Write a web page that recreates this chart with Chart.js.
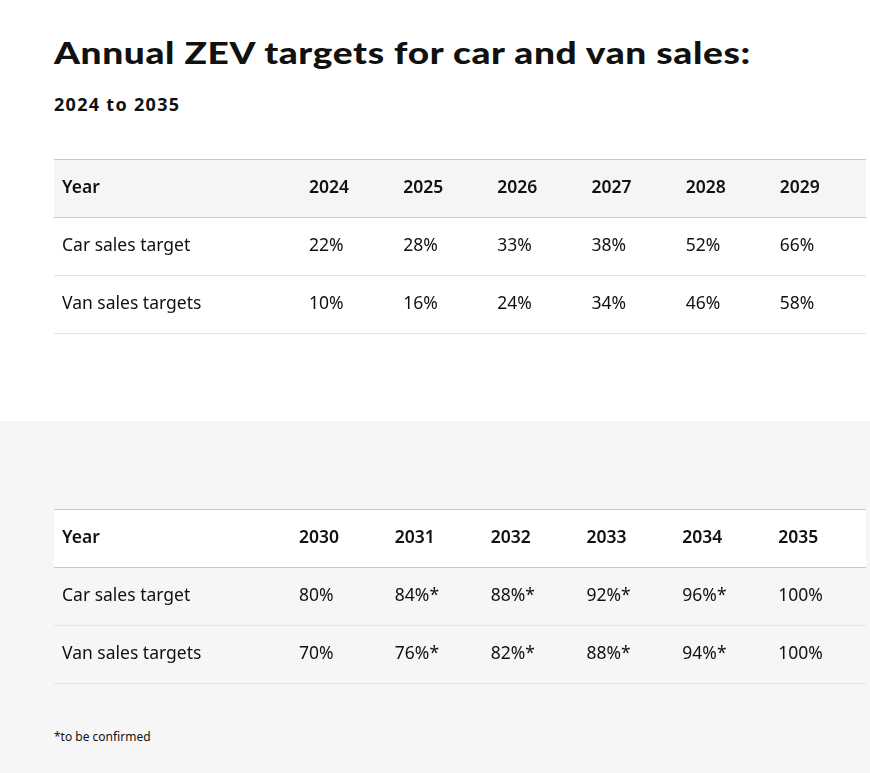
<!DOCTYPE html>
<html>
<head>
<meta charset="utf-8">
<script src="https://cdn.jsdelivr.net/npm/chart.js@4"></script>
<style>
  html, body { margin: 0; padding: 0; }
  body { width: 870px; height: 773px; position: relative; background: #fff; font-family: "Noto Sans", sans-serif; color: #111; overflow: hidden; }
  #lower { position: absolute; left: 0; top: 421px; width: 870px; height: 352px; background: #f6f6f6; }
  h1 { position: absolute; left: 54px; top: 34px; margin: 0; font-family: Lato, sans-serif; font-weight: 900; font-size: 30px; letter-spacing: 0.5px; white-space: nowrap; transform: scaleX(1.235); transform-origin: left top; }
  h2 { position: absolute; left: 54px; top: 92px; margin: 0; font-weight: 700; font-size: 18px; letter-spacing: 1.3px; }
  .tbl { position: absolute; left: 54px; }
  #t1 { top: 158px; }
  #t2 { top: 508px; }
  #note { position: absolute; left: 54px; top: 728px; font-size: 12px; }
</style>
</head>
<body>
<div id="lower"></div>
<h1>Annual ZEV targets for car and van sales:</h1>
<h2>2024 to 2035</h2>
<canvas id="t1" class="tbl" width="812" height="177"></canvas>
<canvas id="t2" class="tbl" width="812" height="177"></canvas>
<div id="note">*to be confirmed</div>
<script>
// table data
var rowNames = ['Year', 'Car sales target', 'Van sales targets'];
var years1 = ['2024', '2025', '2026', '2027', '2028', '2029'];
var car1 = ['22%', '28%', '33%', '38%', '52%', '66%'];
var van1 = ['10%', '16%', '24%', '34%', '46%', '58%'];
var years2 = ['2030', '2031', '2032', '2033', '2034', '2035'];
var car2 = ['80%', '84%*', '88%*', '92%*', '96%*', '100%'];
var van2 = ['70%', '76%*', '82%*', '88%*', '94%*', '100%'];

// draws row backgrounds, rules and cell text at scale positions
var tablePlugin = {
  id: 'tableCells',
  beforeDatasetsDraw: function(chart, args, opts) {
    var c = chart.ctx, a = chart.chartArea, ys = chart.scales.y;
    var rowH = (a.bottom - a.top) / rowNames.length;
    c.save();
    c.fillStyle = opts.headerBg;
    var hy = ys.getPixelForValue(0);
    c.fillRect(0, hy - rowH / 2, a.right, rowH);
    rowNames.forEach(function(r, i) {
      var y = ys.getPixelForValue(i);
      if (i == 0) {
        c.strokeStyle = '#c9c9c9';
        c.beginPath(); c.moveTo(0, Math.round(y - rowH / 2) + 0.5); c.lineTo(a.right, Math.round(y - rowH / 2) + 0.5); c.stroke();
      }
      c.strokeStyle = i == 0 ? '#c9c9c9' : '#e4e4e4';
      var yb = Math.round(y + rowH / 2) + 0.5;
      c.beginPath(); c.moveTo(0, yb); c.lineTo(a.right, yb); c.stroke();
    });
    c.restore();
  },
  afterDatasetsDraw: function(chart) {
    var c = chart.ctx, a = chart.chartArea, xs = chart.scales.x;
    var colW = (a.right - a.left) / xs.ticks.length;
    c.save();
    c.fillStyle = '#111';
    c.textBaseline = 'middle';
    chart.data.datasets.forEach(function(ds, di) {
      var meta = chart.getDatasetMeta(di);
      c.font = (di == 0 ? '600 ' : '400 ') + '17.5px "Noto Sans"';
      c.fillText(rowNames[di], 8, meta.data[0].y);
      meta.data.forEach(function(pt, i) {
        c.fillText(ds.data[i].v, pt.x - colW / 2 + 8, pt.y);
      });
    });
    c.restore();
  }
};

function makeTable(id, years, car, van, padLeft, headerBg) {
  var rows = [years, car, van];
  new Chart(document.getElementById(id), {
    type: 'scatter',
    data: {
      datasets: rows.map(function(vals, r) {
        return {
          label: rowNames[r],
          data: years.map(function(y, i) { return {x: y, y: rowNames[r], v: vals[i]}; }),
          pointRadius: 0
        };
      })
    },
    options: {
      responsive: false,
      animation: false,
      layout: { padding: { left: padLeft, top: 1, bottom: 2, right: 0 } },
      scales: {
        x: { type: 'category', labels: years, offset: true, display: false },
        y: { type: 'category', labels: rowNames, offset: true, display: false }
      },
      plugins: {
        legend: { display: false },
        tooltip: { enabled: false },
        tableCells: { headerBg: headerBg }
      }
    },
    plugins: [tablePlugin]
  });
}

makeTable('t1', years1, car1, van1, 247, '#f5f5f5');
makeTable('t2', years2, car2, van2, 237, '#ffffff');
</script>
</body>
</html>
